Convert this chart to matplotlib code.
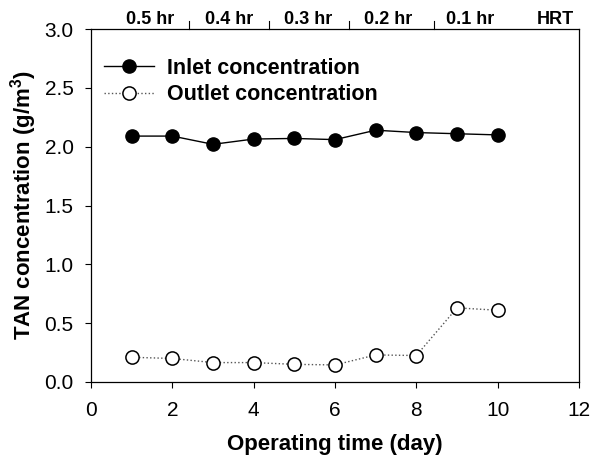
import matplotlib
matplotlib.use("Agg")
import matplotlib.pyplot as plt

# Data
days = [1, 2, 3, 4, 5, 6, 7, 8, 9, 10]
inlet = [2.09, 2.09, 2.02, 2.065, 2.07, 2.06, 2.14, 2.12, 2.11, 2.10]
outlet = [0.21, 0.20, 0.165, 0.165, 0.15, 0.145, 0.23, 0.225, 0.63, 0.61]

# HRT strip above the plot
hrt_labels = ['0.5 hr', '0.4 hr', '0.3 hr', '0.2 hr', '0.1 hr', 'HRT']
hrt_label_x = [1.45, 3.39, 5.35, 7.30, 9.32, 11.43]
hrt_divider_x = [2.42, 4.38, 6.34, 8.43]

plt.rcParams['font.family'] = ['Liberation Sans', 'DejaVu Sans']
plt.rcParams['mathtext.fontset'] = 'custom'
plt.rcParams['mathtext.rm'] = 'Liberation Sans:bold'
plt.rcParams['mathtext.bf'] = 'Liberation Sans:bold'

fig = plt.figure(figsize=(5.91, 4.65), dpi=100)
ax = fig.add_axes([0.154, 0.1785, 0.8257, 0.7591])

ax.plot(days, inlet, color='black', linewidth=1.0, marker='o',
        markersize=9.5, markerfacecolor='black', markeredgecolor='black',
        label='Inlet concentration')
ax.plot(days, outlet, color='#555555', linewidth=1.0, linestyle=':',
        marker='o', markersize=9.5, markerfacecolor='white',
        markeredgecolor='black', markeredgewidth=1.1,
        label='Outlet concentration')

ax.set_xlim(0, 12)
ax.set_ylim(0, 3.0)
ax.set_xticks([0, 2, 4, 6, 8, 10, 12])
ax.set_yticks([0.0, 0.5, 1.0, 1.5, 2.0, 2.5, 3.0])
ax.yaxis.set_major_formatter(matplotlib.ticker.FormatStrFormatter('%.1f'))
ax.tick_params(direction='out', length=4.5, width=0.8, labelsize=15)
ax.tick_params(axis='y', pad=8)
ax.tick_params(axis='x', pad=9)
for s in ax.spines.values():
    s.set_linewidth(0.9)

ax.set_xlabel('Operating time (day)', fontsize=16, fontweight='bold',
              labelpad=10)
ax.set_ylabel(r'TAN concentration (g/m$^{3}$)', fontsize=16,
              fontweight='bold', labelpad=4)

ax.legend(loc='upper left', bbox_to_anchor=(-0.01, 0.971), frameon=False,
          handlelength=2.3, handletextpad=0.6, labelspacing=0.26,
          borderaxespad=0.45, prop={'weight': 'bold', 'size': 15.5})

# HRT labels
trans = ax.get_xaxis_transform()
for lab, x in zip(hrt_labels, hrt_label_x):
    ax.text(x, 1.026, lab, transform=trans, ha='center', va='center',
            fontsize=13, fontweight='bold')
for x in hrt_divider_x:
    ax.plot([x, x], [1.0, 1.024], transform=trans, color='black',
            linewidth=0.8, clip_on=False)

fig.savefig('out.png', dpi=100)
